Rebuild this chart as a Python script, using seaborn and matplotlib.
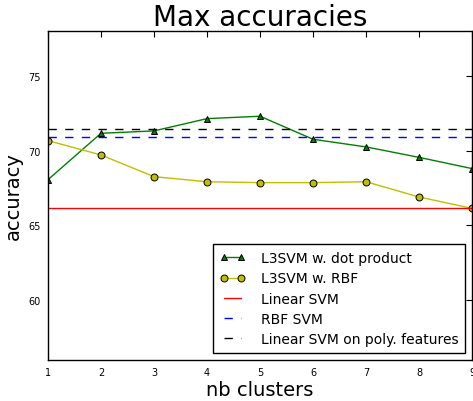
import numpy as np
import matplotlib
matplotlib.use("Agg")
import matplotlib.pyplot as plt
import seaborn as sns

# values
nb_clusters = [1, 2, 3, 4, 5, 6, 7, 8, 9]
acc_dot = [68.06, 71.16, 71.32, 72.14, 72.3, 70.76, 70.25, 69.55, 68.8]
acc_rbf = [70.67, 69.71, 68.26, 67.92, 67.86, 67.86, 67.92, 66.9, 66.14]
linear_svm = 66.18
rbf_svm = 70.94
poly_svm = 71.45

sns.set_style("white", {"text.color": "k", "axes.labelcolor": "k",
                        "xtick.color": "k", "ytick.color": "k",
                        "axes.edgecolor": "k"})
plt.rcParams['font.family'] = ['DejaVu Sans']

fig, ax = plt.subplots(figsize=(4.73, 4.02), dpi=100)
fig.subplots_adjust(left=48 / 473, right=0.998, bottom=1 - 361 / 402, top=1 - 32 / 402)

sns.lineplot(x=nb_clusters, y=acc_dot, ax=ax, color='g', marker='^', markersize=5,
             markeredgecolor='k', markeredgewidth=0.7, linewidth=1,
             label='L3SVM w. dot product')
sns.lineplot(x=nb_clusters, y=acc_rbf, ax=ax, color='y', marker='o', markersize=5,
             markeredgecolor='k', markeredgewidth=0.7, linewidth=1,
             label='L3SVM w. RBF')
ax.axhline(linear_svm, color='r', linewidth=1, label='Linear SVM')
ax.axhline(rbf_svm, color='b', linewidth=1, linestyle=(0, (6, 6)), label='RBF SVM')
ax.axhline(poly_svm, color='k', linewidth=1, linestyle=(0, (6, 6)),
           label='Linear SVM on poly. features')

ax.set_xlim(1, 9)
ax.set_ylim(56, 78)
ax.set_xticks(nb_clusters)
ax.set_yticks([60, 65, 70, 75])
ax.tick_params(direction='in', top=True, right=True, labelsize=7, length=4,
               width=0.8, colors='k', pad=5)
for s in ax.spines.values():
    s.set_edgecolor('k')
    s.set_linewidth(1)

ax.set_title('Max accuracies', fontsize=20, pad=4)
ax.set_xlabel('nb clusters', fontsize=14, labelpad=2)
ax.set_ylabel('accuracy', fontsize=14, labelpad=4)

leg = ax.legend(loc='lower right', fontsize=10, fancybox=False, framealpha=1,
                edgecolor='k', handlelength=1.8, handletextpad=1.1,
                borderpad=0.5, labelspacing=0.45, numpoints=2)
leg.get_frame().set_linewidth(1)

plt.savefig('out.png', dpi=100)
